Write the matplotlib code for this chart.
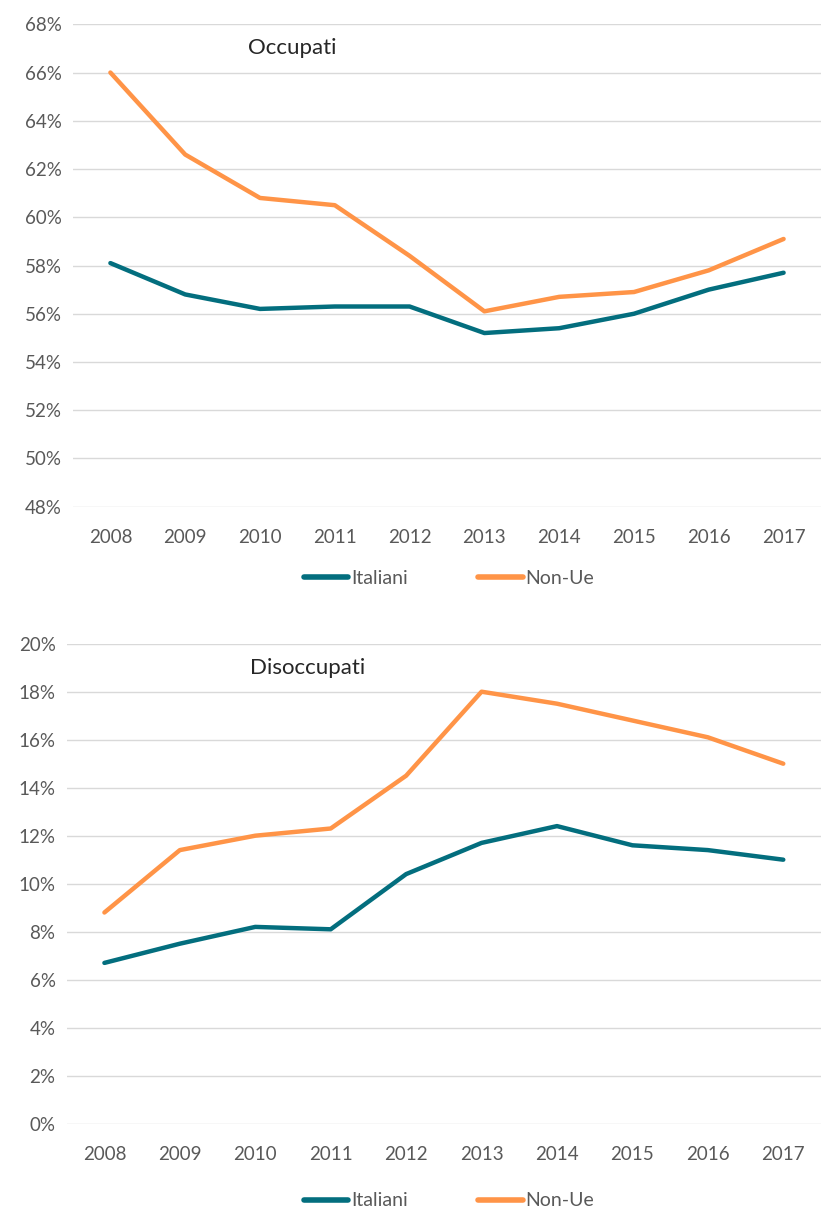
import matplotlib
matplotlib.use("Agg")
import matplotlib.pyplot as plt
from matplotlib.ticker import FuncFormatter, MultipleLocator

plt.rcParams['font.family'] = ['Lato', 'DejaVu Sans']

years = ['2008', '2009', '2010', '2011', '2012', '2013', '2014', '2015', '2016', '2017']
occ_italiani = [58.1, 56.8, 56.2, 56.3, 56.3, 55.2, 55.4, 56.0, 57.0, 57.7]
occ_nonue = [66.0, 62.6, 60.8, 60.5, 58.4, 56.1, 56.7, 56.9, 57.8, 59.1]
dis_italiani = [6.7, 7.5, 8.2, 8.1, 10.4, 11.7, 12.4, 11.6, 11.4, 11.0]
dis_nonue = [8.8, 11.4, 12.0, 12.3, 14.5, 18.0, 17.5, 16.8, 16.1, 15.0]

TEAL = '#036E7E'
ORANGE = '#FF9447'
GRAY = '#595959'
GRID = '#D9D9D9'

W, H = 821, 1211
fig = plt.figure(figsize=(W / 100, H / 100), dpi=100)


def make_axes(rect, ylim, it, nu, title, title_xy, legend_y):
    ax = fig.add_axes(rect)
    x = list(range(len(years)))
    ax.plot(x, it, color=TEAL, lw=3.2, solid_capstyle='round', label='Italiani', zorder=3)
    ax.plot(x, nu, color=ORANGE, lw=3.2, solid_capstyle='round', label='Non-Ue', zorder=3)
    ax.set_xlim(-0.5, len(years) - 0.5)
    ax.set_ylim(*ylim)
    ax.yaxis.set_major_locator(MultipleLocator(2))
    ax.yaxis.set_major_formatter(FuncFormatter(lambda v, p: f"{v:.0f}%"))
    ax.set_xticks(x)
    ax.set_xticklabels(years)
    ax.grid(axis='y', color=GRID, lw=1.0)
    ax.set_axisbelow(True)
    for s in ax.spines.values():
        s.set_visible(False)
    ax.tick_params(axis='both', length=0, colors=GRAY, labelsize=13.5)
    ax.tick_params(axis='x', pad=16)
    ax.tick_params(axis='y', pad=8)
    fig.text(title_xy[0] / W, 1 - title_xy[1] / H, title, ha='center', va='center',
             fontsize=16, color='#262626')
    leg = ax.legend(loc='center', bbox_to_anchor=(449 / W, legend_y), bbox_transform=fig.transFigure,
                    ncol=2, frameon=False, handlelength=2.3, handletextpad=0.15, columnspacing=3.6,
                    fontsize=14, labelcolor=GRAY)
    for h in leg.get_lines():
        h.set_linewidth(4)
    return ax


make_axes([73 / W, 1 - 506.7 / H, 1 - 73 / W, (506.7 - 24.3) / H], (48, 68),
          occ_italiani, occ_nonue, 'Occupati', (292, 48), 1 - 578 / H)
make_axes([66.7 / W, 1 - 1123.7 / H, 1 - 66.7 / W, (1123.7 - 643.7) / H], (0, 20),
          dis_italiani, dis_nonue, 'Disoccupati', (308, 668), 1 - 1201 / H)

fig.savefig('out.png', dpi=100)
